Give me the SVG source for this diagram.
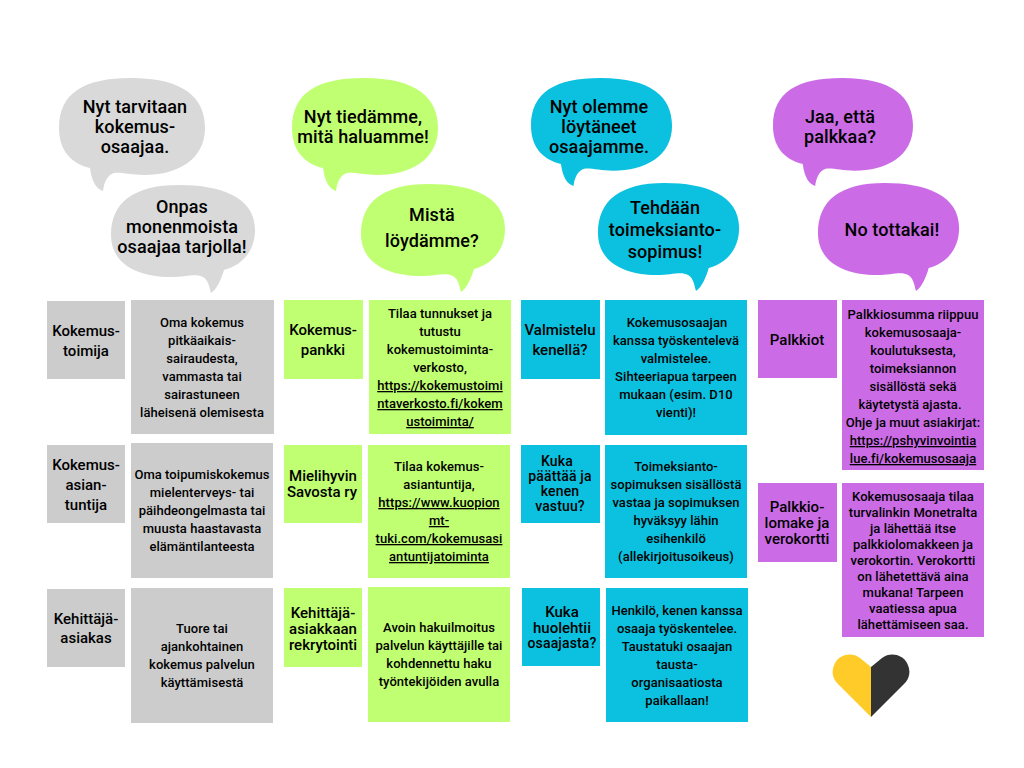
<svg xmlns="http://www.w3.org/2000/svg" xmlns:xlink="http://www.w3.org/1999/xlink" width="1024" height="768" viewBox="0 0 1024 768">
<style>
text{font-family:Roboto,"Liberation Sans",sans-serif;font-weight:500;fill:#000;text-anchor:middle}
.b{font-size:18px;letter-spacing:.1px}
.h{font-size:15px}
.t{font-size:14px;letter-spacing:.15px}
.d{font-size:13px;letter-spacing:.05px}
.u{text-decoration:underline}
.gb{fill:#d9d9d9}.gr{fill:#ccc}.l{fill:#c1ff72}.c{fill:#0cc0df}.p{fill:#cb6ce6}
</style>
<defs>
<path id="bl" d="M31,90 C10,85 0,70 0,50 C0,15 25,0 72,0 C125,0 146,20 146,50 C146,82 118,97 85,97 C72,97 62,94 55,95 C48,97 45,105 44,113 C38,111 33,105 31,90 Z"/>
<path id="br" d="M113,85 C132,80 144,65 144,45 C144,12 110,0 68,0 C22,0 0,18 0,50 C0,78 25,92 60,92 C75,92 85,88 92,92 C98,96 98,102 100,108 C106,104 110,95 113,85 Z"/>
</defs>
<rect width="1024" height="768" fill="#fff"/>
<g id="bubble-gray-1"><use href="#bl" class="gb" transform="translate(59 78)"/><text class="b" x="135" y="113">Nyt tarvitaan</text><text class="b" x="135" y="133">kokemus-</text><text class="b" x="135" y="153">osaajaa.</text></g>
<g id="bubble-gray-2"><use href="#br" class="gb" transform="translate(111 185)"/><text class="b" x="182" y="213">Onpas</text><text class="b" x="182" y="233">monenmoista</text><text class="b" x="182" y="253">osaajaa tarjolla!</text></g>
<g id="bubble-green-1"><use href="#bl" class="l" transform="translate(292 78)"/><text class="b" x="363" y="123">Nyt tiedämme,</text><text class="b" x="363" y="143">mitä haluamme!</text></g>
<g id="bubble-green-2"><use href="#br" class="l" transform="translate(361 184)"/><text class="b" x="432" y="221">Mistä</text><text class="b" x="432" y="247">löydämme?</text></g>
<g id="bubble-cyan-1"><use href="#bl" class="c" transform="translate(531 78) scale(.966 .956)"/><text class="b" x="599" y="113">Nyt olemme</text><text class="b" x="599" y="133">löytäneet</text><text class="b" x="599" y="153">osaajamme.</text></g>
<g id="bubble-cyan-2"><use href="#br" class="c" transform="translate(598 183) scale(.98 1)"/><text class="b" x="665" y="214">Tehdään</text><text class="b" x="665" y="236">toimeksianto-</text><text class="b" x="665" y="258">sopimus!</text></g>
<g id="bubble-purple-1"><use href="#bl" class="p" transform="translate(773 78) scale(.959 .956)"/><text class="b" x="840" y="123">Jaa, että</text><text class="b" x="840" y="143">palkkaa?</text></g>
<g id="bubble-purple-2"><use href="#br" class="p" transform="translate(818 183) scale(.98 1)"/><text class="b" x="892" y="236">No tottakai!</text></g>

<g id="gray-head-1"><rect class="gr" x="47" y="301" width="78" height="78"/><text class="h" x="86" y="336">Kokemus-</text><text class="h" x="86" y="356">toimija</text></g>
<g id="gray-text-1"><rect class="gr" x="131" y="300" width="143" height="134"/><text class="d" x="202" y="327">Oma kokemus</text><text class="d" x="202" y="345">pitkäaikais-</text><text class="d" x="202" y="363">sairaudesta,</text><text class="d" x="202" y="381">vammasta tai</text><text class="d" x="202" y="399">sairastuneen</text><text class="d" x="202" y="417">läheisenä olemisesta</text></g>
<g id="gray-head-2"><rect class="gr" x="47" y="445" width="78" height="78"/><text class="h" x="86" y="470">Kokemus-</text><text class="h" x="86" y="490">asian-</text><text class="h" x="86" y="510">tuntija</text></g>
<g id="gray-text-2"><rect class="gr" x="131" y="443" width="142" height="135"/><text class="d" x="202" y="479">Oma toipumiskokemus</text><text class="d" x="202" y="497">mielenterveys- tai</text><text class="d" x="202" y="515">päihdeongelmasta tai</text><text class="d" x="202" y="533">muusta haastavasta</text><text class="d" x="202" y="551">elämäntilanteesta</text></g>
<g id="gray-head-3"><rect class="gr" x="47" y="589" width="78" height="78"/><text class="h" x="86" y="624">Kehittäjä-</text><text class="h" x="86" y="643">asiakas</text></g>
<g id="gray-text-3"><rect class="gr" x="131" y="588" width="142" height="135"/><text class="d" x="202" y="633">Tuore tai</text><text class="d" x="202" y="651">ajankohtainen</text><text class="d" x="202" y="669">kokemus palvelun</text><text class="d" x="202" y="687">käyttämisestä</text></g>

<g id="green-head-1"><rect class="l" x="284" y="300" width="79" height="79"/><text class="h" x="323" y="335">Kokemus-</text><text class="h" x="323" y="355">pankki</text></g>
<g id="green-text-1"><rect class="l" x="369" y="300" width="142" height="134"/><text class="d" x="440" y="318">Tilaa tunnukset ja</text><text class="d" x="440" y="336">tutustu</text><text class="d" x="440" y="354">kokemustoiminta-</text><text class="d" x="440" y="372">verkosto,</text><text class="d u" x="440" y="390">https://kokemustoimi</text><text class="d u" x="440" y="408">ntaverkosto.fi/kokem</text><text class="d u" x="440" y="426">ustoiminta/</text></g>
<g id="green-head-2"><rect class="l" x="284" y="445" width="78" height="78"/><text class="h" x="323" y="481">Mielihyvin</text><text class="h" x="322" y="497">Savosta ry</text></g>
<g id="green-text-2"><rect class="l" x="368" y="445" width="142" height="133"/><text class="d" x="439" y="471">Tilaa kokemus-</text><text class="d" x="439" y="489">asiantuntija,</text><text class="d u" x="439" y="507">https://www.kuopion</text><text class="d u" x="439" y="525">mt-</text><text class="d u" x="439" y="543">tuki.com/kokemusasi</text><text class="d u" x="439" y="561">antuntijatoiminta</text></g>
<g id="green-head-3"><rect class="l" x="284" y="588" width="78" height="79"/><text class="h" x="323" y="618">Kehittäjä-</text><text class="h" x="323" y="634">asiakkaan</text><text class="h" x="323" y="650">rekrytointi</text></g>
<g id="green-text-3"><rect class="l" x="368" y="587" width="142" height="135"/><text class="d" x="439" y="632">Avoin hakuilmoitus</text><text class="d" x="439" y="650">palvelun käyttäjille tai</text><text class="d" x="439" y="668">kohdennettu haku</text><text class="d" x="439" y="686">työntekijöiden avulla</text></g>

<g id="cyan-head-1"><rect class="c" x="521" y="300" width="79" height="79"/><text class="h" x="560" y="335">Valmistelu</text><text class="h" x="560" y="355">kenellä?</text></g>
<g id="cyan-text-1"><rect class="c" x="605" y="300" width="142" height="135"/><text class="d" x="677" y="327">Kokemusosaajan</text><text class="d" x="676" y="345">kanssa työskentelevä</text><text class="d" x="676" y="363">valmistelee.</text><text class="d" x="676" y="381">Sihteeriapua  tarpeen</text><text class="d" x="676" y="399">mukaan (esim. D10</text><text class="d" x="676" y="417">vienti)!</text></g>
<g id="cyan-head-2"><rect class="c" x="521" y="445" width="79" height="78"/><text class="t" x="557" y="466">Kuka</text><text class="t" x="560" y="481">päättää ja</text><text class="t" x="560" y="496">kenen</text><text class="t" x="560" y="511">vastuu?</text></g>
<g id="cyan-text-2"><rect class="c" x="605" y="445" width="142" height="133"/><text class="d" x="676" y="471">Toimeksianto-</text><text class="d" x="676" y="489">sopimuksen sisällöstä</text><text class="d" x="676" y="507">vastaa ja sopimuksen</text><text class="d" x="676" y="525">hyväksyy lähin</text><text class="d" x="676" y="543">esihenkilö</text><text class="d" x="676" y="561">(allekirjoitusoikeus)</text></g>
<g id="cyan-head-3"><rect class="c" x="522" y="588" width="78" height="78"/><text class="h" x="562" y="617">Kuka</text><text class="h" x="562" y="633">huolehtii</text><text class="t" x="562" y="648">osaajasta?</text></g>
<g id="cyan-text-3"><rect class="c" x="606" y="588" width="142" height="134"/><text class="d" x="677" y="615">Henkilö, kenen kanssa</text><text class="d" x="677" y="633">osaaja työskentelee.</text><text class="d" x="677" y="651">Taustatuki osaajan</text><text class="d" x="677" y="669">tausta-</text><text class="d" x="677" y="687">organisaatiosta</text><text class="d" x="677" y="705">paikallaan!</text></g>

<g id="purple-head-1"><rect class="p" x="758" y="300" width="79" height="78"/><text class="h" x="797" y="345">Palkkiot</text></g>
<g id="purple-text-1"><rect class="p" x="842" y="300" width="142" height="170"/><text class="d" x="913" y="319">Palkkiosumma riippuu</text><text class="d" x="913" y="337">kokemusosaaja-</text><text class="d" x="913" y="355">koulutuksesta,</text><text class="d" x="913" y="373">toimeksiannon</text><text class="d" x="913" y="391">sisällöstä sekä</text><text class="d" x="910" y="409">käytetystä ajasta.</text><text class="d" x="913" y="427">Ohje ja muut asiakirjat:</text><text class="d u" x="913" y="445">https://pshyvinvointia</text><text class="d u" x="913" y="463">lue.fi/kokemusosaaja</text></g>
<g id="purple-head-2"><rect class="p" x="758" y="483" width="79" height="79"/><text class="h" x="797" y="512">Palkkio-</text><text class="h" x="797" y="528">lomake ja</text><text class="h" x="797" y="544">verokortti</text></g>
<g id="purple-text-2"><rect class="p" x="842" y="483" width="142" height="154"/><text class="d" x="913" y="501">Kokemusosaaja tilaa</text><text class="d" x="913" y="517">turvalinkin Monetralta</text><text class="d" x="913" y="533">ja lähettää itse</text><text class="d" x="913" y="549">palkkiolomakkeen ja</text><text class="d" x="913" y="565">verokortin. Verokortti</text><text class="d" x="913" y="581">on lähetettävä aina</text><text class="d" x="913" y="597">mukana! Tarpeen</text><text class="d" x="913" y="613">vaatiessa apua</text><text class="d" x="913" y="629">lähettämiseen saa.</text></g>

<g id="heart">
<path d="M871,667 L860,658 C852,652 840,654 835,663 C831,671 832,678 838,684 L871,717 Z" fill="#ffcb29"/>
<path d="M871,667 L882,658 C890,652 902,654 907,663 C911,671 910,678 904,684 L871,717 Z" fill="#333"/>
</g>
</svg>
